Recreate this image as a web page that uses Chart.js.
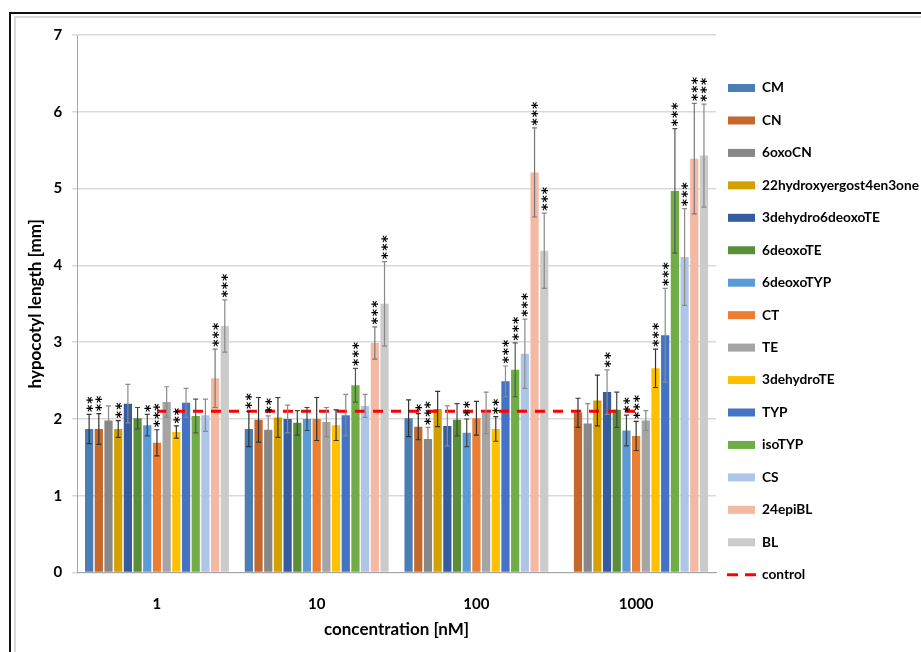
<!DOCTYPE html>
<html>
<head>
<meta charset="utf-8">
<script src="https://cdn.jsdelivr.net/npm/chart.js@4.4.1/dist/chart.umd.min.js"></script>
<style>
  html, body { margin: 0; padding: 0; background: #fff; overflow: hidden; }
  .frame { position: absolute; left: 9px; top: 12px; width: 1000px; height: 1000px; border: 2px solid #111; }
  .frame2 { position: absolute; left: 14px; top: 16px; width: 1000px; height: 1000px; border: 2px solid #d9d9d9; }
  #wrap { position: absolute; left: 0; top: 0; width: 921px; height: 652px; }
</style>
</head>
<body>
<div class="frame"></div>
<div class="frame2"></div>
<div id="wrap"><canvas id="myChart"></canvas></div>
<script>
const categories = ["1", "10", "100", "1000"];
const seriesNames = ["CM", "CN", "6oxoCN", "22hydroxyergost4en3one", "3dehydro6deoxoTE", "6deoxoTE",
  "6deoxoTYP", "CT", "TE", "3dehydroTE", "TYP", "isoTYP", "CS", "24epiBL", "BL"];

// mean hypocotyl length per concentration, one entry per series
const mean1 = [1.87, 1.87, 1.98, 1.87, 2.20, 2.01, 1.92, 1.69, 2.22, 1.83, 2.21, 2.04, 2.05, 2.53, 3.21];
const mean10 = [1.87, 1.99, 1.86, 2.02, 2.00, 1.95, 2.00, 2.00, 1.96, 1.92, 2.05, 2.44, 2.17, 2.99, 3.50];
const mean100 = [2.01, 1.90, 1.74, 2.13, 1.91, 1.99, 1.82, 2.01, 2.08, 1.87, 2.49, 2.64, 2.85, 5.21, 4.19];
const mean1000 = [null, 2.08, 1.94, 2.24, 2.35, 2.12, 1.85, 1.78, 1.98, 2.66, 3.09, 4.97, 4.11, 5.39, 5.43];

// error bars (+/-)
const err1 = [0.19, 0.20, 0.19, 0.11, 0.25, 0.14, 0.14, 0.17, 0.20, 0.08, 0.19, 0.22, 0.21, 0.38, 0.34];
const err10 = [0.23, 0.29, 0.18, 0.26, 0.18, 0.16, 0.15, 0.28, 0.19, 0.20, 0.27, 0.22, 0.15, 0.21, 0.55];
const err100 = [0.24, 0.17, 0.15, 0.23, 0.26, 0.21, 0.18, 0.22, 0.27, 0.16, 0.20, 0.35, 0.45, 0.58, 0.49];
const err1000 = [null, 0.19, 0.26, 0.33, 0.29, 0.23, 0.20, 0.19, 0.13, 0.25, 0.61, 0.81, 0.63, 0.72, 0.67];

// number of significance stars
const sig1 = [2, 2, 0, 2, 0, 0, 1, 3, 0, 2, 0, 0, 0, 3, 3];
const sig10 = [2, 0, 2, 0, 0, 0, 0, 0, 0, 0, 0, 3, 0, 3, 3];
const sig100 = [0, 1, 3, 0, 0, 0, 2, 0, 0, 2, 3, 3, 3, 3, 3];
const sig1000 = [0, 0, 0, 0, 2, 0, 2, 3, 0, 3, 3, 3, 3, 3, 3];

const control = [2.1, 2.1, 2.1, 2.1];

const barColors = ["#4a7eb4", "#c5682b", "#878787", "#d3a000", "#345c9f", "#5b8e3a", "#5b9bd5", "#ed7d31",
  "#a5a5a5", "#ffc000", "#4472c4", "#70ad47", "#adc6e8", "#f4b9a3", "#cbcbcb"];
const errColors = ["#333", "#333", "#8a8a8a", "#333", "#8a8a8a", "#444", "#444", "#333",
  "#8a8a8a", "#333", "#8a8a8a", "#555", "#8a8a8a", "#777", "#888"];

const means = [mean1, mean10, mean100, mean1000];
const errs = [err1, err10, err100, err1000];
const sigs = [sig1, sig10, sig100, sig1000];

const FONT = "Lato, 'Open Sans', sans-serif";

const datasets = seriesNames.map((name, s) => ({
  type: "bar",
  label: name,
  data: means.map(m => m[s]),
  backgroundColor: barColors[s],
  borderWidth: 0,
  categoryPercentage: 0.91,
  barPercentage: 0.85,
  order: 1
}));

datasets.push({
  type: "line",
  label: "control",
  data: control,
  borderColor: "#ff0000",
  backgroundColor: "#ff0000",
  borderWidth: 3,
  borderDash: [10, 8],
  pointRadius: 0,
  fill: false,
  order: 0
});

const errorBars = {
  id: "errorBars",
  afterDatasetsDraw(chart) {
    const ctx = chart.ctx;
    const y = chart.scales.y;
    ctx.save();
    ctx.font = "bold 14px 'DejaVu Sans', sans-serif";
    const m = ctx.measureText("*");
    const starShift = (m.actualBoundingBoxAscent - m.actualBoundingBoxDescent) / 2;
    seriesNames.forEach((name, s) => {
      const meta = chart.getDatasetMeta(s);
      meta.data.forEach((bar, i) => {
        const v = means[i][s];
        const e = errs[i][s];
        if (v == null) return;
        const top = y.getPixelForValue(v + e);
        const bot = y.getPixelForValue(v - e);
        ctx.strokeStyle = errColors[s];
        ctx.lineWidth = 1.2;
        ctx.beginPath();
        ctx.moveTo(bar.x, top); ctx.lineTo(bar.x, bot);
        ctx.moveTo(bar.x - 2.5, top); ctx.lineTo(bar.x + 2.5, top);
        ctx.moveTo(bar.x - 2.5, bot); ctx.lineTo(bar.x + 2.5, bot);
        ctx.stroke();

        // stars, stacked upward
        ctx.fillStyle = "#000";
        ctx.textAlign = "center";
        ctx.textBaseline = "alphabetic";
        for (let k = 0; k < sigs[i][s]; k++) {
          const cy = top - 6 - k * 8.3;
          ctx.save();
          ctx.translate(bar.x, cy);
          ctx.rotate(Math.PI / 2);
          ctx.fillText("*", 0, starShift);
          ctx.restore();
        }
      });
    });
    ctx.restore();
  }
};

// legend drawn to the right of the plot, Excel style
const sideLegend = {
  id: "sideLegend",
  afterDraw(chart) {
    const ctx = chart.ctx;
    const area = chart.chartArea;
    const x0 = area.right + 12;
    const y0 = 88;
    const step = 32.45;
    ctx.save();
    ctx.font = "bold 13.7px " + FONT;
    ctx.textBaseline = "middle";
    ctx.textAlign = "left";
    chart.data.datasets.forEach((ds, k) => {
      const cy = y0 + k * step;
      if (ds.type === "line") {
        ctx.strokeStyle = ds.borderColor;
        ctx.lineWidth = ds.borderWidth;
        ctx.beginPath();
        ctx.moveTo(x0 - 1, cy); ctx.lineTo(x0 + 10, cy);
        ctx.moveTo(x0 + 17, cy); ctx.lineTo(x0 + 28, cy);
        ctx.stroke();
      } else {
        ctx.fillStyle = ds.backgroundColor;
        ctx.fillRect(x0, cy - 4, 27, 8);
      }
      ctx.fillStyle = "#000";
      ctx.fillText(ds.label, x0 + 34, cy);
    });
    ctx.restore();
  }
};

const ctx1 = document.getElementById("myChart").getContext("2d");
const myChart = new Chart(ctx1, {
  data: { labels: categories, datasets: datasets },
  options: {
    responsive: true,
    maintainAspectRatio: false,
    animation: false,
    layout: { padding: { top: 35, left: 25, right: 205, bottom: 12 } },
    scales: {
      x: {
        grid: { display: false, drawTicks: false },
        border: { color: "#a6a6a6", width: 1 },
        ticks: { color: "#000", padding: 23, font: { family: FONT, size: 15, weight: "bold" } },
        title: {
          display: true,
          text: "concentration [nM]",
          color: "#000",
          padding: { top: -17, bottom: 0 },
          font: { family: FONT, size: 17, weight: "bold" }
        }
      },
      y: {
        min: 0,
        max: 7,
        ticks: { stepSize: 1, color: "#000", padding: 10, font: { family: FONT, size: 15, weight: "bold" } },
        grid: { color: "#d9d9d9", lineWidth: 1.5, tickLength: 5 },
        border: { color: "#a6a6a6", width: 1 },
        title: {
          display: true,
          text: "hypocotyl length [mm]",
          color: "#000",
          padding: { top: 0, bottom: -2 },
          font: { family: FONT, size: 17, weight: "bold" }
        }
      }
    },
    plugins: {
      tooltip: { enabled: false },
      legend: { display: false }
    }
  },
  plugins: [errorBars, sideLegend]
});
</script>
</body>
</html>
